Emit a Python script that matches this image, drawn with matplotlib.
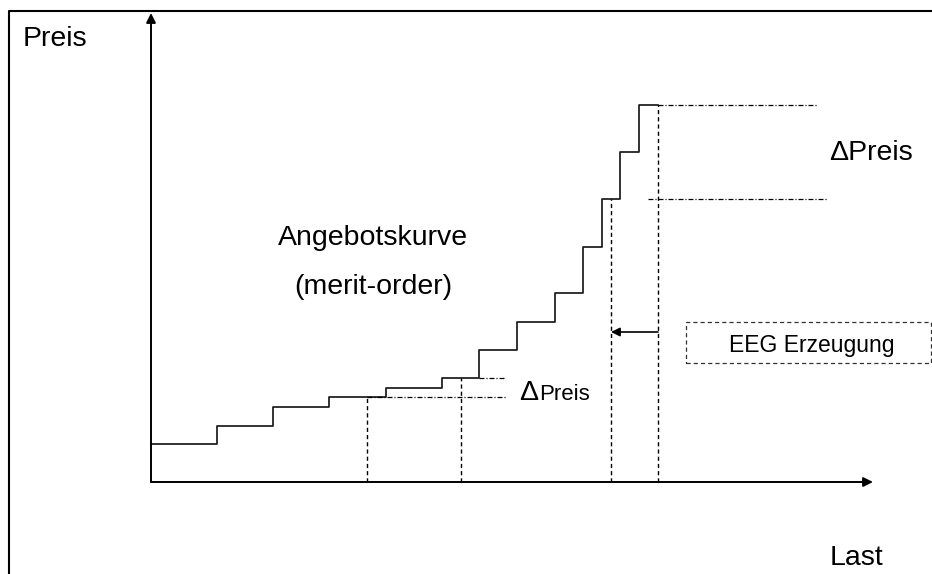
import matplotlib.pyplot as plt
from matplotlib.patches import Rectangle

plt.rcParams['font.family'] = ['Liberation Sans', 'DejaVu Sans']
plt.rcParams['lines.scale_dashes'] = False

# merit-order steps (Last = x, Preis = y, arbitrary units)
last_breaks = [0, 66, 122, 178, 235, 291, 328, 366, 404, 432, 451, 469, 488, 507]
preis_levels = [38, 56, 75, 85, 94, 104, 132, 160, 189, 235, 283, 330, 377]

# dashed drop lines (x, top)
drop_x = [216, 310, 460, 507]
drop_top = [85, 104, 283, 377]

# dash-dot price markers (y, x start, x end)
small_dp_y = [104, 85]
small_dp_x0 = [328, 216]
small_dp_x1 = [355, 356]
big_dp_y = [377, 283]
big_dp_x0 = [507, 497]
big_dp_x1 = [666, 676]

# EEG shift arrow
shift_from = 507
shift_to = 460
shift_y = 150

DASH = (0, (3.0, 2.2))
DASHDOT = (0, (3.6, 1.4, 0.8, 1.4))

fig = plt.figure(figsize=(9.32, 5.74), dpi=100)
ax = fig.add_axes([0, 0, 1, 1])
ax.set_xlim(-151, 781)
ax.set_ylim(-92, 482)
ax.axis('off')

# frame
ax.plot([-142, -142, 800], [-100, 471, 471], color='black', lw=1.5)

# axes with arrows
ax.annotate('', xy=(0, 469), xytext=(0, 0),
            arrowprops=dict(arrowstyle='-|>', color='black', lw=1.4,
                            shrinkA=0, shrinkB=0, mutation_scale=14))
ax.annotate('', xy=(722, 0), xytext=(0, 0),
            arrowprops=dict(arrowstyle='-|>', color='black', lw=1.4,
                            shrinkA=0, shrinkB=0, mutation_scale=14))

# supply curve
ax.step(last_breaks, preis_levels + [preis_levels[-1]], where='post',
        color='#1a1a1a', lw=1.25)

for x, top in zip(drop_x, drop_top):
    ax.plot([x, x], [0, top], color='black', lw=1.0, linestyle=DASH)

for y, x0, x1 in zip(small_dp_y + big_dp_y, small_dp_x0 + big_dp_x0,
                     small_dp_x1 + big_dp_x1):
    ax.plot([x0, x1], [y, y], color='black', lw=0.9, linestyle=DASHDOT)

ax.annotate('', xy=(shift_to, shift_y), xytext=(shift_from, shift_y),
            arrowprops=dict(arrowstyle='-|>', color='black', lw=1.2,
                            shrinkA=0, shrinkB=0, mutation_scale=13))

# EEG box
ax.add_patch(Rectangle((535, 119), 245, 41, fill=False, edgecolor='#333333',
                       lw=0.9, linestyle=DASH))
ax.text(578, 130, 'EEG Erzeugung', fontsize=16.5, va='baseline', ha='left')

# labels
ax.text(-128, 436, 'Preis', fontsize=20.5, va='baseline', ha='left')
ax.text(679, -83, 'Last', fontsize=20.5, va='baseline', ha='left')
ax.text(678, 322, 'ΔPreis', fontsize=20.5, va='baseline', ha='left')
ax.text(222, 237, 'Angebotskurve', fontsize=20.5, va='baseline', ha='center')
ax.text(222, 188, '(merit-order)', fontsize=20.5, va='baseline', ha='center')
ax.text(368, 82, 'Δ', fontsize=20.5, va='baseline', ha='left')
ax.text(388, 82, 'Preis', fontsize=16, va='baseline', ha='left')

fig.savefig('out.png', dpi=100)
